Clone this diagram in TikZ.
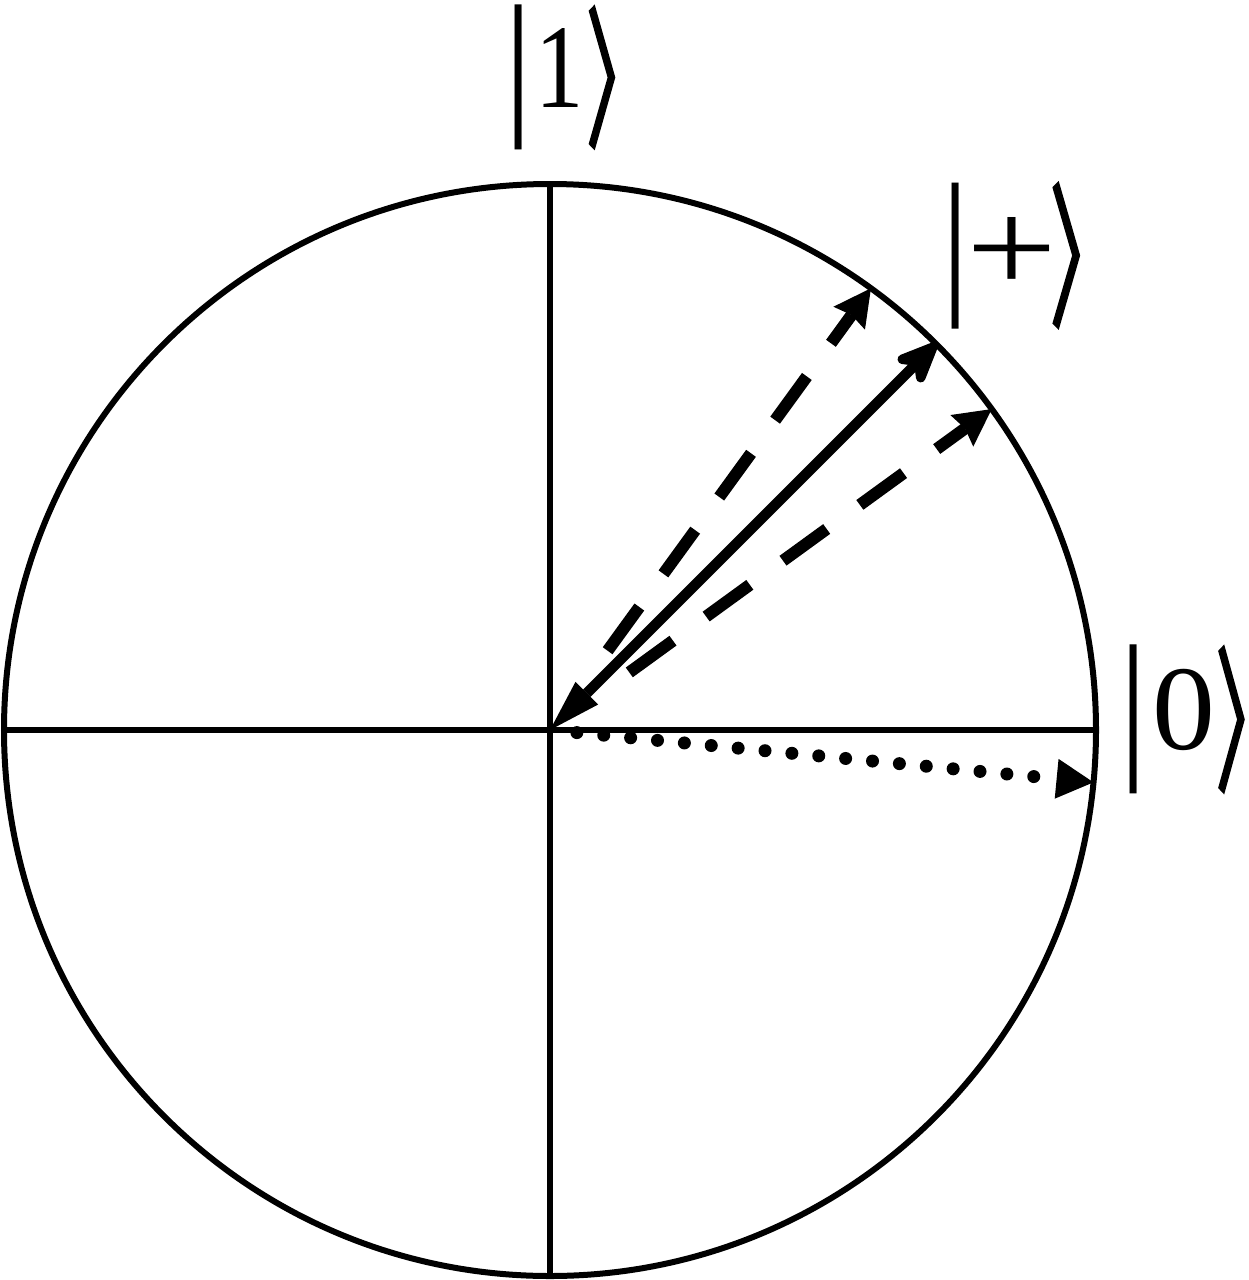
\documentclass[tikz,border=0pt]{standalone}
\usepackage{fontspec}
\setmainfont{Liberation Serif}
\newfontface\cjkang[FakeBold=3]{Noto Sans CJK SC}
\usepackage{graphicx}
\usetikzlibrary{arrows.meta}
\XeTeXuseglyphmetrics=1
% a glyph trimmed to its ink
\newcommand{\inkglyph}[2]{\hbox{#1\kern-\XeTeXglyphbounds1 \XeTeXcharglyph#2 \char#2\kern-\XeTeXglyphbounds3 \XeTeXcharglyph#2 }}
% glyph scaled to ink width #3, total ink height #4, ink bottom #5 below baseline
\newcommand{\placeglyph}[5]{\setbox0=\hbox{\resizebox*{#3}{#4}{\inkglyph{#1}{#2}}}\raisebox{\dimexpr\dp0-#5\relax}{\copy0}}
\tikzset{
  axisline/.style={line width=3pt},
  ketlabel/.style={inner sep=0pt, anchor=base west},
  solidarrow/.style={line width=5.25pt,
    {Triangle[length=26pt,width=16pt,line width=0pt]}-{Stealth[length=28pt,width=24pt,inset=9pt,round]}},
  dashedarrow/.style={line width=6pt, dash pattern=on 27pt off 20.5pt, shorten <=49pt,
    -{Stealth[length=18.5pt,width=19.5pt,inset=2pt,line width=0pt]}},
  dottedarrow/.style={line width=6.5pt, line cap=round, dash pattern=on 0pt off 13.5pt, shorten <=13.5pt,
    -{Triangle[length=18.5pt,width=20pt,line width=0pt]}}
}
\begin{document}
\begin{tikzpicture}[x=0.5pt,y=0.5pt]
\useasboundingbox (0,0) rectangle (1248,-1280);
\coordinate (O) at (550,-730);
\coordinate (T) at (550,-184);
\coordinate (B) at (550,-1276);
\coordinate (W) at (4,-730);
\coordinate (E) at (1096,-730);
\path (O) ++(45:546) coordinate (P);
\path (O) ++(54:546) coordinate (U);
\path (O) ++(36:546) coordinate (L);
\path (O) ++(-5.5:546) coordinate (D);
% circle and axes
\draw[axisline] (O) circle[radius=546];
\draw[axisline] (T) -- (B);
\draw[axisline] (W) -- (E);
% arrows
\draw[dashedarrow] (O) -- (U);
\draw[dashedarrow] (O) -- (L);
\draw[dottedarrow] (O) -- (D);
\draw[solidarrow] (O) -- (P);
% labels
\node[ketlabel] (k1) at (515,-107) {\placeglyph{\rmfamily}{`|}{3.5pt}{72.5pt}{21.5pt}\hspace{10.6pt}\placeglyph{\rmfamily}{`1}{17pt}{39.5pt}{0pt}\hspace{6.25pt}\placeglyph{\cjkang}{"3009}{12pt}{70pt}{20.25pt}};
\node[ketlabel] (kp) at (952,-285) {\placeglyph{\rmfamily}{`|}{3.5pt}{73pt}{22pt}\hspace{7.75pt}\placeglyph{\rmfamily}{`+}{37.5pt}{37.5pt}{3.75pt}\hspace{2pt}\placeglyph{\cjkang}{"3009}{12.5pt}{71.5pt}{21pt}};
\node[ketlabel] (k0) at (1129.5,-750.7) {\placeglyph{\rmfamily}{`|}{3.5pt}{74.5pt}{21.65pt}\hspace{10.1pt}\placeglyph{\rmfamily}{`0}{26.65pt}{40.7pt}{0pt}\hspace{4.6pt}\placeglyph{\cjkang}{"3009}{12pt}{72pt}{20.4pt}};
\end{tikzpicture}
\end{document}
